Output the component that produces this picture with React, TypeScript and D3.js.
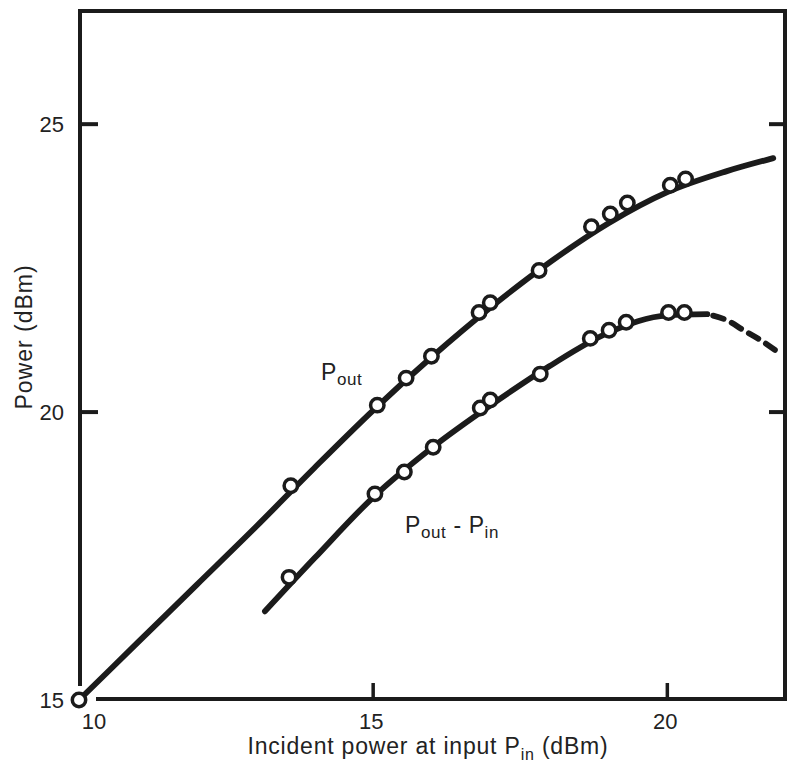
import React from "react";
import * as d3 from "d3";

const xTicks = [10, 15, 20];
const yTicks = [15, 20, 25];

// measured points, P_out
const poutPinX = [10, 13.6, 15.07, 15.56, 15.99, 16.8, 16.99, 17.82, 18.71, 19.03, 19.32, 20.05, 20.31];
const poutVal = [15.0, 18.72, 20.12, 20.59, 20.97, 21.73, 21.9, 22.46, 23.22, 23.44, 23.63, 23.94, 24.05];

// fitted curve, P_out
const poutFitX = [10, 11, 12, 13, 14, 15, 16, 17, 18, 19, 20, 21, 21.8];
const poutFitY = [15.0, 16.0, 17.0, 18.0, 19.03, 20.03, 20.96, 21.82, 22.6, 23.28, 23.82, 24.18, 24.41];

// measured points, P_out - P_in
const diffPinX = [13.57, 15.03, 15.53, 16.02, 16.82, 16.99, 17.84, 18.69, 19.01, 19.3, 20.02, 20.29];
const diffVal = [17.13, 18.58, 18.96, 19.39, 20.07, 20.21, 20.66, 21.28, 21.42, 21.56, 21.73, 21.73];

// fitted curve, P_out - P_in (solid part, then dashed extrapolation)
const diffFitX = [13.16, 14, 15, 16, 17, 18, 19, 20, 20.68];
const diffFitY = [16.54, 17.46, 18.52, 19.38, 20.12, 20.8, 21.38, 21.68, 21.7];
const diffExtX = [20.68, 21.0, 21.3, 21.6, 21.84];
const diffExtY = [21.7, 21.6, 21.42, 21.24, 21.07];

const W = 790;
const H = 767;
const ink = "#1b1b1b";
const font = "'Liberation Sans', Arial, Helvetica, sans-serif";

const App = () => {
  const x = d3.scaleLinear().domain([10, 22]).range([79, 785]);
  const y = d3.scaleLinear().domain([15, 27]).range([700, 9]);

  const line = d3
    .line<[number, number]>()
    .x((d) => x(d[0]))
    .y((d) => y(d[1]))
    .curve(d3.curveMonotoneX);

  const zip = (a: number[], b: number[]) => a.map((v, i) => [v, b[i]] as [number, number]);

  const pout = zip(poutPinX, poutVal);
  const diff = zip(diffPinX, diffVal);

  const left = x(10) + 1;
  const right = x(22);
  const top = y(27) + 2;
  const bottom = y(15) - 1;

  return (
    <svg
      width={W}
      height={H}
      style={{ position: "absolute", left: 0, top: 0, background: "#fff" }}
      fontFamily={font}
    >
      {/* frame */}
      <g stroke={ink} strokeWidth={4} fill="none" strokeLinecap="square">
        <line x1={left} x2={left} y1={top} y2={bottom - 15} />
        <line x1={left + 18} x2={right} y1={bottom} y2={bottom} />
        <line x1={left} x2={right} y1={top} y2={top} />
        <line x1={right} x2={right} y1={top} y2={bottom} />
      </g>

      {/* ticks */}
      <g stroke={ink} strokeWidth={4}>
        {yTicks
          .filter((t) => t !== 15)
          .map((t) => (
            <g key={"yt" + t}>
              <line x1={left} x2={left + 18} y1={y(t)} y2={y(t)} />
              <line x1={right - 16} x2={right} y1={y(t)} y2={y(t)} />
            </g>
          ))}
        {xTicks
          .filter((t) => t !== 10)
          .map((t) => (
            <line key={"xt" + t} x1={x(t)} x2={x(t)} y1={bottom} y2={bottom - 16} strokeWidth={3.5} />
          ))}
      </g>

      {/* tick labels */}
      <g fill="#222" fontSize={22}>
        {yTicks.map((t) => (
          <text key={"yl" + t} x={64} y={y(t)} dy="0.36em" textAnchor="end">
            {t}
          </text>
        ))}
        {xTicks.map((t, i) => (
          <text key={"xl" + t} x={x(t) + (i === 0 ? 15 : -2)} y={bottom + 30} textAnchor="middle">
            {t}
          </text>
        ))}
      </g>

      {/* axis titles */}
      <text x={428} y={754} textAnchor="middle" fontSize={23} fill="#222" letterSpacing={0.8}>
        Incident power at input P
        <tspan fontSize={16} dy={6}>in</tspan>
        <tspan dy={-6}> (dBm)</tspan>
      </text>
      <text
        transform={`translate(32,${337}) rotate(-90)`}
        textAnchor="middle"
        fontSize={23}
        fill="#222"
        letterSpacing={1}
      >
        Power (dBm)
      </text>

      {/* curves */}
      <g fill="none" stroke={ink} strokeWidth={5.8} strokeLinecap="round">
        <path d={line(zip(poutFitX, poutFitY)) ?? ""} />
        <path d={line(zip(diffFitX, diffFitY)) ?? ""} />
        <path
          d={line(zip(diffExtX, diffExtY)) ?? ""}
          strokeDasharray="11 9"
          strokeDashoffset={-6}
        />
      </g>

      {/* measured points */}
      <g fill="#fff" stroke={ink} strokeWidth={3.5}>
        {pout.map((d, i) => (
          <circle key={"p" + i} cx={x(d[0])} cy={y(d[1])} r={6.7} />
        ))}
        {diff.map((d, i) => (
          <circle key={"d" + i} cx={x(d[0])} cy={y(d[1])} r={6.7} />
        ))}
      </g>

      {/* curve labels */}
      <g fill="#222">
        <text x={321} y={380} fontSize={23} letterSpacing={0.6}>
          P<tspan fontSize={17} dy={5}>out</tspan>
        </text>
        <text x={405} y={533} fontSize={23} letterSpacing={0.6}>
          P<tspan fontSize={17} dy={5}>out</tspan>
          <tspan dy={-5}> - P</tspan>
          <tspan fontSize={17} dy={5}>in</tspan>
        </text>
      </g>
    </svg>
  );
};

export default App;
